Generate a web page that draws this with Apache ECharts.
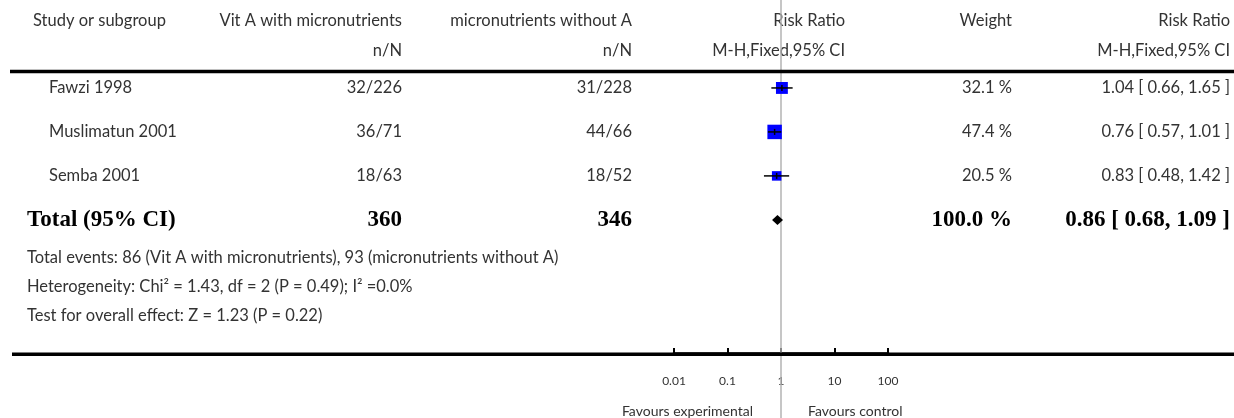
<!DOCTYPE html>
<html><head><meta charset="utf-8">
<script src="https://cdn.jsdelivr.net/npm/echarts@6/dist/echarts.min.js"></script>
<style>html,body{margin:0;padding:0;background:#fff}#c{width:1234px;height:418px}</style>
</head><body><div id="c"></div>
<script>
// ---- data ----
const studies = ['Fawzi 1998', 'Muslimatun 2001', 'Semba 2001'];
const expEvents = ['32/226', '36/71', '18/63'];
const ctrlEvents = ['31/228', '44/66', '18/52'];
const rr = [1.04, 0.76, 0.83];
const rrLow = [0.66, 0.57, 0.48];
const rrHigh = [1.65, 1.01, 1.42];
const weights = [32.1, 47.4, 20.5];
const totalLabel = 'Total (95% CI)';
const totalExpN = 360;
const totalCtrlN = 346;
const totalRR = [0.86, 0.68, 1.09];
const totalWeight = 100.0;
const xTicks = [0.01, 0.1, 1, 10, 100];
const headers1 = ['Study or subgroup', 'Vit A with micronutrients', 'micronutrients without A', 'Risk Ratio', 'Weight', 'Risk Ratio'];
const headers2 = ['', 'n/N', 'n/N', 'M-H,Fixed,95% CI', '', 'M-H,Fixed,95% CI'];
const footnotes = [
  'Total events: 86 (Vit A with micronutrients), 93 (micronutrients without A)',
  'Heterogeneity: Chi² = 1.43, df = 2 (P = 0.49); I² =0.0%',
  'Test for overall effect: Z = 1.23 (P = 0.22)'
];
const favours = ['Favours experimental', 'Favours control'];

// ---- layout ----
const FONT = 'Lato, "Open Sans", sans-serif';
const SERIF = '"Liberation Serif", "DejaVu Serif", serif';
const TXT = '#333';
const FS = 16.5;
const colX = {name: 49, exp: 402, ctrl: 632, plot: 845, weight: 1012, ci: 1230};
const fmtCI = (a, b, c) => `${a.toFixed(2)} [ ${b.toFixed(2)}, ${c.toFixed(2)} ]`;

const chart = echarts.init(document.getElementById('c'));

const studyData = studies.map((s, i) => [rr[i], i + 1, rrLow[i], rrHigh[i], weights[i]]);
const totalIdx = studies.length + 1;

function txt(x, y, text, align, font, fill) {
  return {type: 'text', x: x, y: y, silent: true,
    style: {text: text, align: align, verticalAlign: 'middle', font: font, fill: fill || TXT}};
}

const graphics = [];
const hx = [33, colX.exp, colX.ctrl, colX.plot, colX.weight, colX.ci];
headers1.forEach((h, i) => graphics.push(txt(hx[i], 21, h, i === 0 ? 'left' : 'right', FS + 'px ' + FONT)));
headers2.forEach((h, i) => { if (h) graphics.push(txt(hx[i], 51, h, 'right', FS + 'px ' + FONT)); });
graphics.push({type: 'line', silent: true, z: 10, shape: {x1: 10, y1: 71.5, x2: 1234, y2: 71.5}, style: {stroke: '#000', lineWidth: 3.5}});
graphics.push({type: 'line', silent: true, z: 10, shape: {x1: 12, y1: 354.3, x2: 1234, y2: 354.3}, style: {stroke: '#000', lineWidth: 3.5}});
[258, 287, 316].forEach((y, i) => graphics.push(txt(27, y, footnotes[i], 'left', FS + 'px ' + FONT)));
graphics.push(txt(753, 411, favours[0], 'right', '14px ' + FONT));
graphics.push(txt(808, 411, favours[1], 'left', '14px ' + FONT));

chart.setOption({
  animation: false,
  grid: {left: 674, width: 214, top: 0, height: 354},
  xAxis: {
    type: 'log', logBase: 10, min: 0.01, max: 100, interval: 1,
    axisLine: {show: true, onZero: false, lineStyle: {color: '#000', width: 3.5}},
    axisTick: {show: true, inside: true, length: 6, lineStyle: {color: '#000', width: 2}},
    splitLine: {show: false},
    axisLabel: {margin: 21, fontSize: 12, fontFamily: FONT, color: '#333',
      formatter: v => String(+(+v).toPrecision(3))}
  },
  yAxis: {type: 'value', inverse: true, min: -1, max: 7.05, show: false},
  graphic: graphics,
  series: [
    { // reference line at RR = 1
      type: 'custom', z: 1, silent: true, data: [[1, 0]],
      renderItem: (params, api) => {
        const p = api.coord([api.value(0), 0]);
        return {type: 'line', shape: {x1: p[0], y1: 0, x2: p[0], y2: api.getHeight()},
          style: {stroke: '#b3b3b3', lineWidth: 1.5}};
      }
    },
    { // study rows: text columns
      type: 'custom', z: 3, silent: true, data: studyData,
      renderItem: (params, api) => {
        const i = params.dataIndex;
        const y = api.coord([1, api.value(1)])[1];
        return {type: 'group', children: [
          txt(colX.name, y, studies[i], 'left', FS + 'px ' + FONT),
          txt(colX.exp, y, expEvents[i], 'right', FS + 'px ' + FONT),
          txt(colX.ctrl, y, ctrlEvents[i], 'right', FS + 'px ' + FONT),
          txt(colX.weight, y, weights[i].toFixed(1) + ' %', 'right', FS + 'px ' + FONT),
          txt(colX.ci, y, fmtCI(rr[i], rrLow[i], rrHigh[i]), 'right', FS + 'px ' + FONT)
        ]};
      }
    },
    { // study squares + CIs
      type: 'custom', z: 4, silent: true, data: studyData,
      renderItem: (params, api) => {
        const yv = api.value(1);
        const c = api.coord([api.value(0), yv]);
        const l = api.coord([api.value(2), yv]);
        const h = api.coord([api.value(3), yv]);
        const s = 2.1 * Math.sqrt(api.value(4));
        return {type: 'group', children: [
          {type: 'rect', shape: {x: c[0] - s / 2, y: c[1] - s / 2, width: s, height: s}, style: {fill: '#0000ff'}},
          {type: 'line', shape: {x1: l[0], y1: c[1], x2: h[0], y2: c[1]}, style: {stroke: '#000', lineWidth: 1.5}},
          {type: 'line', shape: {x1: c[0], y1: c[1] - 3, x2: c[0], y2: c[1] + 3}, style: {stroke: '#000', lineWidth: 1.5}}
        ]};
      }
    },
    { // total row
      type: 'custom', z: 4, silent: true,
      data: [[totalRR[0], totalIdx, totalRR[1], totalRR[2], totalWeight]],
      renderItem: (params, api) => {
        const yv = api.value(1);
        const c = api.coord([api.value(0), yv]);
        const l = api.coord([api.value(2), yv]);
        const h = api.coord([api.value(3), yv]);
        const bf = 'bold 23px ' + SERIF;
        return {type: 'group', children: [
          {type: 'polygon', shape: {points: [[l[0], c[1]], [c[0], c[1] - 5], [h[0], c[1]], [c[0], c[1] + 5]]}, style: {fill: '#000'}},
          txt(27, c[1], totalLabel, 'left', bf, '#000'),
          txt(colX.exp, c[1], String(totalExpN), 'right', bf, '#000'),
          txt(colX.ctrl, c[1], String(totalCtrlN), 'right', bf, '#000'),
          txt(colX.weight, c[1], totalWeight.toFixed(1) + ' %', 'right', bf, '#000'),
          txt(colX.ci, c[1], fmtCI(totalRR[0], totalRR[1], totalRR[2]), 'right', bf, '#000')
        ]};
      }
    }
  ]
});
</script>
</body></html>
